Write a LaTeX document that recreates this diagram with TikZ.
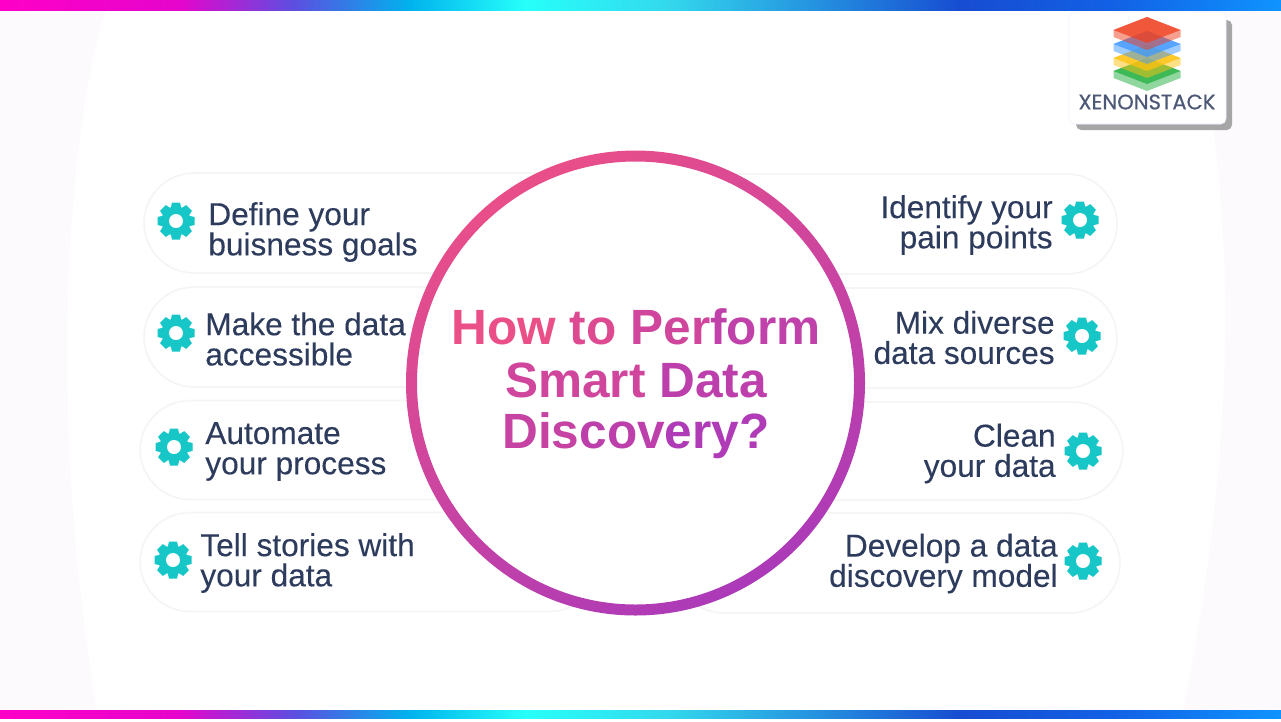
\documentclass[tikz,border=0pt]{standalone}
\usepackage{fontspec}
\setmainfont{Liberation Sans}
\newfontfamily\itemfont[FakeBold=0.2]{Liberation Sans}
\newfontfamily\logofont[FakeBold=0.5]{Poppins}
\definecolor{inktext}{HTML}{2D3B5C}
\definecolor{gearteal}{HTML}{17C6C6}
\definecolor{ringpink}{HTML}{EE5085}
\definecolor{ringpurple}{HTML}{AC3AB8}
\definecolor{sidetint}{HTML}{FCFAFD}
\definecolor{slabred}{HTML}{F0401E}
\definecolor{slabblue}{HTML}{3F98FF}
\definecolor{slabyellow}{HTML}{FFC20E}
\definecolor{slabgreen}{HTML}{22B040}
\pgfdeclarehorizontalshading{rainbowbar}{100bp}{
  rgb(0bp)=(1,0,0.78);
  rgb(25bp)=(1,0,0.78);
  rgb(32bp)=(0.9,0.02,0.8);
  rgb(36.5bp)=(0.36,0.31,0.88);
  rgb(41bp)=(0,0.70,0.93);
  rgb(45.5bp)=(0.15,1,0.98);
  rgb(51bp)=(0.2,0.85,0.93);
  rgb(62.5bp)=(0.09,0.30,0.82);
  rgb(68.5bp)=(0.07,0.38,0.90);
  rgb(75bp)=(0.06,0.58,1);
  rgb(100bp)=(0.06,0.58,1)}
\tikzset{
  pillbox/.style={draw=black!4, line width=1pt, fill=white, rounded corners=1cm, minimum height=2cm, inner sep=0pt},
  itemtext/.style={text=inktext, align=left, inner sep=0pt, font=\itemfont\fontsize{18}{17.2}\selectfont},
  itemright/.style={itemtext, align=right},
  titletext/.style={font=\fontsize{28.2}{30}\selectfont\bfseries, inner sep=0pt},
  gearicon/.pic={
    \foreach \a in {0,45,...,315}
      \fill[gearteal, rotate=\a] (-5.5,-12) -- (-4,-18.5) -- (4,-18.5) -- (5.5,-12) -- cycle;
    \fill[gearteal] (0,0) circle (14.5);
    \fill[white] (0,0) circle (7);
  },
  stackslab/.pic={
    \fill[opacity=0.5, fill=#1] (-33.5,0) -- (0,-13) -- (33.5,0) -- (33.5,7) -- (0,20) -- (-33.5,7) -- cycle;
    \fill[opacity=0.75, fill=#1] (-33.5,0) -- (0,-13) -- (33.5,0) -- (0,13) -- cycle;
  }
}
\newcommand{\tint}[2]{\textcolor{ringpink!#1!ringpurple}{#2}}
\begin{document}
\begin{tikzpicture}[x=0.02cm,y=-0.02cm]
  \useasboundingbox (0,0) rectangle (1281,721);
  % side tints
  \fill[sidetint] (0,10) -- (106,10) .. controls (70,120) and (45,400) .. (97,710) -- (0,710) -- cycle;
  \fill[sidetint] (1281,10) -- (1192,10) .. controls (1240,220) and (1235,450) .. (1183,710) -- (1281,710) -- cycle;
  % colour bars
  \shade[shading=rainbowbar] (0,0) rectangle (1281,10);
  \shade[shading=rainbowbar] (0,710) rectangle (1281,718);
  % left pills
  \node (goals) at (372,223) [pillbox, minimum width=9.12cm] {};
  \node (access) at (372,337) [pillbox, minimum width=9.12cm] {};
  \node (automate) at (370,450) [pillbox, minimum width=9.2cm, minimum height=1.98cm] {};
  \node (stories) at (370,562) [pillbox, minimum width=9.2cm, minimum height=1.98cm] {};
  % right pills
  \node (pain) at (895,224) [pillbox, minimum width=8.88cm] {};
  \node (mix) at (895,338) [pillbox, minimum width=8.88cm] {};
  \node (clean) at (898,451) [pillbox, minimum width=9cm, minimum height=1.96cm] {};
  \node (model) at (897,563) [pillbox, minimum width=8.92cm] {};
  % ring
  \fill[white] (635.5,383) ellipse (224 and 227);
  \shade[even odd rule, left color=ringpink!92!ringpurple, right color=ringpurple, shading angle=30] (635.5,383) ellipse (229.5 and 232.5) (635.5,383) ellipse (218.5 and 221.5);
  % title
  \node (titleA) at (636,327) [titletext] {\tint{95}{How} \tint{75}{to} \tint{55}{Per}\tint{30}{form}};
  \node (titleB) at (636,380) [titletext] {\tint{55}{Smart} \tint{25}{Data}};
  \node (titleC) at (636,436) [titletext] {\tint{40}{Dis}\tint{25}{cov}\tint{5}{ery?}};
  % gears
  \pic at (176,221) {gearicon};
  \pic at (176,333) {gearicon};
  \pic at (174,447) {gearicon};
  \pic at (173,560) {gearicon};
  \pic at (1080,220) {gearicon};
  \pic at (1082,336) {gearicon};
  \pic at (1083,451) {gearicon};
  \pic at (1083,561) {gearicon};
  % left labels
  \node (goalsT) at (208,232) [itemtext, anchor=west] {Define your\\buisness goals};
  \node (accessT) at (205,339) [itemtext, anchor=west] {Make the data\\accessible};
  \node (automateT) at (205,451.5) [itemtext, anchor=west] {Automate\\your process};
  \node (storiesT) at (200,563) [itemtext, anchor=west] {Tell stories with\\your data};
  % right labels
  \node (painT) at (1053,225) [itemright, anchor=east] {Identify your\\pain points};
  \node (mixT) at (1055,337.5) [itemright, anchor=east] {Mix diverse\\data sources};
  \node (cleanT) at (1056,453.5) [itemright, anchor=east] {Clean\\your data};
  \node (modelT) at (1058,563.5) [itemright, anchor=east] {Develop a data\\discovery model};
  % logo card
  \fill[black!35, rounded corners=3pt] (1076,20) rectangle (1232,130);
  \fill[white, rounded corners=3pt] (1069,12) rectangle (1226,124);
  \draw[blue!6, rounded corners=3pt] (1069,12) rectangle (1226,124);
  \pic at (1147,71) {stackslab=slabgreen};
  \pic at (1147,58) {stackslab=slabyellow};
  \pic at (1147,44) {stackslab=slabblue};
  \pic at (1147,30) {stackslab=slabred};
  \node (logotext) at (1147,102) [inner sep=0pt, text=inktext!85!white, font=\logofont\fontsize{12}{12}\selectfont] {XENONSTACK};
\end{tikzpicture}
\end{document}
